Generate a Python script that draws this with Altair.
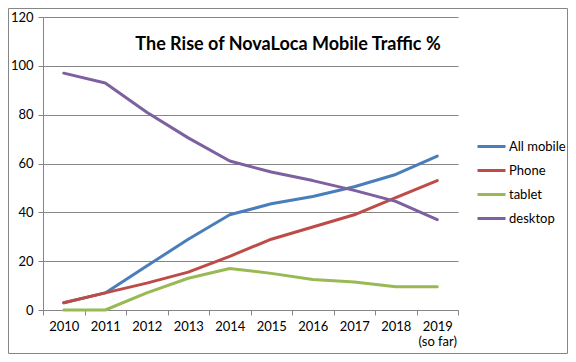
import altair as alt
import pandas as pd

years = ["2010", "2011", "2012", "2013", "2014", "2015", "2016", "2017", "2018", "2019"]
all_mobile = [3, 7, 18, 29, 39, 43.5, 46.5, 50.5, 55.5, 63]
phone = [3, 7, 11, 15.5, 22, 29, 34, 39, 46, 53]
tablet = [0, 0, 7, 13, 17, 15, 12.5, 11.5, 9.5, 9.5]
desktop = [97, 93, 81, 70.5, 61, 56.5, 53, 49, 44.5, 37]
series_names = ["All mobile", "Phone", "tablet", "desktop"]
colors = ["#4A7EBB", "#BE4B48", "#98B954", "#7D60A0"]
title_text = "The Rise of NovaLoca Mobile Traffic %"

rows = []
for name, vals in zip(series_names, [all_mobile, phone, tablet, desktop]):
    for y, v in zip(years, vals):
        rows.append({"year": y, "value": v, "series": name})
df = pd.DataFrame(rows)

W, H = 415, 293
FONT = "Lato"

lines = alt.Chart(df).mark_line(strokeWidth=3, strokeJoin="round", strokeCap="round").encode(
    x=alt.X("year:N", sort=years,
            scale=alt.Scale(type="band", paddingInner=0, paddingOuter=0),
            axis=alt.Axis(title=None, labelAngle=0, tickBand="extent",
                          labelExpr="datum.value == '2019' ? ['2019', '(so far)'] : datum.value",
                          domainColor="#868686", tickColor="#868686", tickSize=5,
                          labelColor="#000000", labelFont=FONT, labelFontSize=13,
                          labelLineHeight=15, labelPadding=5, grid=False)),
    y=alt.Y("value:Q", scale=alt.Scale(domain=[0, 120], nice=False),
            axis=alt.Axis(title=None, values=[0, 20, 40, 60, 80, 100, 120],
                          domainColor="#868686", tickColor="#868686", tickSize=5,
                          gridColor="#868686", gridWidth=1,
                          labelColor="#000000", labelFont=FONT, labelFontSize=13,
                          labelPadding=5)),
    color=alt.Color("series:N", sort=series_names,
                    scale=alt.Scale(domain=series_names, range=colors),
                    legend=alt.Legend(title=None, orient="none", legendX=433, legendY=114,
                                      symbolType="stroke", symbolStrokeWidth=3,
                                      symbolSize=784, rowPadding=1, padding=0,
                                      labelOffset=2, labelFont=FONT, labelFontSize=13,
                                      labelColor="#000000")),
)

title = alt.Chart(pd.DataFrame({"t": [title_text]})).mark_text(
    font=FONT, fontSize=18, fontWeight="bold", color="#000000", align="center", baseline="middle"
).encode(text="t:N", x=alt.value(245), y=alt.value(28))

border = alt.Chart(pd.DataFrame({"a": [0]})).mark_rect(
    fill=None, stroke="#868686", strokeWidth=1
).encode(x=alt.value(-34.5), x2=alt.value(W + 109.5), y=alt.value(-8.5), y2=alt.value(H + 43.5))

chart = alt.layer(border, lines, title).properties(
    width=W, height=H,
    padding={"left": 35, "top": 9, "right": 110, "bottom": 44},
    autosize=alt.AutoSizeParams(type="none"),
    background="#ffffff",
).configure_view(stroke=None)

chart.save("out.html", embed_options={"renderer": "svg", "actions": False})
